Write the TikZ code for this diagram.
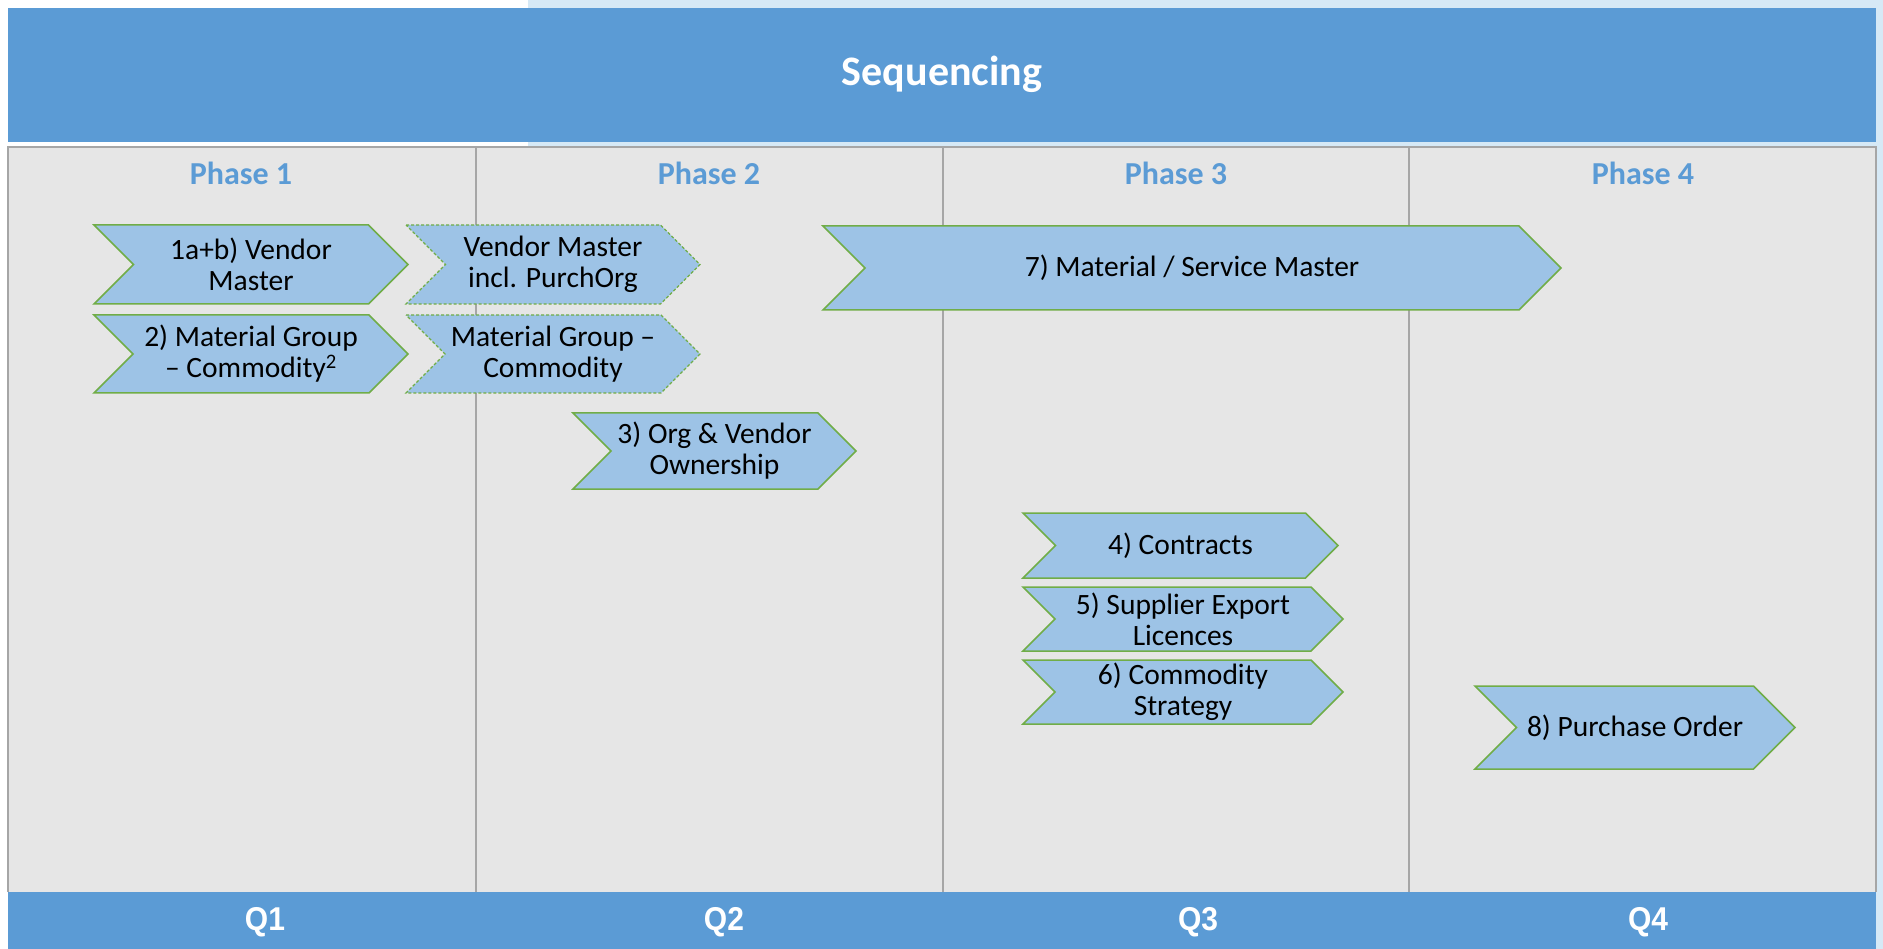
\documentclass[tikz,border=0pt]{standalone}
\usepackage{fontspec}
\setmainfont{Carlito}
\newfontfamily\qfont{Liberation Sans}
\usepackage{tikz}
\usetikzlibrary{calc}
\definecolor{hdrblue}{HTML}{5B9BD5}
\definecolor{panelgray}{HTML}{E6E6E6}
\definecolor{gridgray}{HTML}{A6A6A6}
\definecolor{chevfill}{HTML}{9DC3E6}
\definecolor{chevline}{HTML}{70AD47}
\definecolor{bgblue}{HTML}{D6E9F6}
\tikzset{
  chevsolid/.style={fill=chevfill, draw=chevline, line width=1.5pt, line join=miter},
  chevdash/.style={chevsolid, dash pattern=on 3pt off 2pt, line width=1.2pt},
  chevtext/.style={align=center, inner sep=0pt, font=\fontsize{29.5}{31}\selectfont},
  phaselbl/.style={text=hdrblue, inner sep=0pt, font=\bfseries\fontsize{32}{38}\selectfont},
  qlbl/.style={text=white, inner sep=0pt, font=\qfont\bfseries\fontsize{30}{36}\selectfont, yscale=1.1}
}
% chevron: style, name, x1, y1, x2 (tip), y2, text
\newcommand{\chev}[7]{
  \pgfmathsetmacro{\chh}{(#6-#4)/2}
  \draw[#1] (#3,#4) -- ({#5-\chh},#4) -- (#5,{(#4+#6)/2}) -- ({#5-\chh},#6)
    -- (#3,#6) -- ({#3+\chh},{(#4+#6)/2}) -- cycle;
  \node[chevtext] (#2) at ({(#3+#5)/2},{(#4+#6)/2}) {#7};}

\begin{document}
\begin{tikzpicture}[x=1pt,y=-1pt]
        \useasboundingbox (0,0) rectangle (1883,949);
        \fill[bgblue] (528,0) rectangle (1883,949);
        % header
        \fill[hdrblue] (8,8) rectangle (1876,142);
        \node[text=white, font=\bfseries\fontsize{42}{50}\selectfont] (title) at (942,74) {Sequencing};
        % panel
        \fill[panelgray] (8,147) rectangle (1876,892);
        \draw[gridgray, line width=2pt] (8,892) -- (8,147) -- (1876,147) -- (1876,892);
        \foreach \gx in {476,943,1409}
          \draw[gridgray, line width=2pt] (\gx,147) -- (\gx,892);
        % phase labels
        \node[phaselbl] (ph1) at (241,173) {Phase 1};
        \node[phaselbl] (ph2) at (709,173) {Phase 2};
        \node[phaselbl] (ph3) at (1176,173) {Phase 3};
        \node[phaselbl] (ph4) at (1643,173) {Phase 4};
        % phase 1
        \chev{chevsolid}{vendor1}{94}{225}{408}{304}{1a+b) Vendor\\Master}
        \chev{chevsolid}{matgrp2}{94}{315}{408}{393}{2) Material Group\\– Commodity\textsuperscript{2}}
        % phase 2
        \chev{chevdash}{vendorpo}{406}{225}{700}{304}{Vendor Master\\incl. PurchOrg}
        \chev{chevdash}{matgrpc}{406}{315}{700}{393}{Material Group –\\Commodity}
        \chev{chevsolid}{orgown3}{573}{413}{856}{489}{3) Org \& Vendor\\Ownership}
        % phase 3
        \chev{chevsolid}{matsvc7}{823}{226}{1561}{310}{7) Material / Service Master}
        \chev{chevsolid}{contr4}{1023}{513}{1338}{578}{4) Contracts}
        \chev{chevsolid}{export5}{1023}{587}{1343}{651}{5) Supplier Export\\Licences}
        \chev{chevsolid}{strat6}{1023}{660}{1343}{724}{6) Commodity\\Strategy}
        % phase 4
        \chev{chevsolid}{po8}{1475}{686}{1795}{769}{8) Purchase Order}
        % quarters
        \fill[hdrblue] (8,892) rectangle (1876,949);
        \node[qlbl] (q1) at (265,922) {Q1};
        \node[qlbl] (q2) at (724,922) {Q2};
        \node[qlbl] (q3) at (1198,922) {Q3};
        \node[qlbl] (q4) at (1648,922) {Q4};
\end{tikzpicture}
\end{document}
